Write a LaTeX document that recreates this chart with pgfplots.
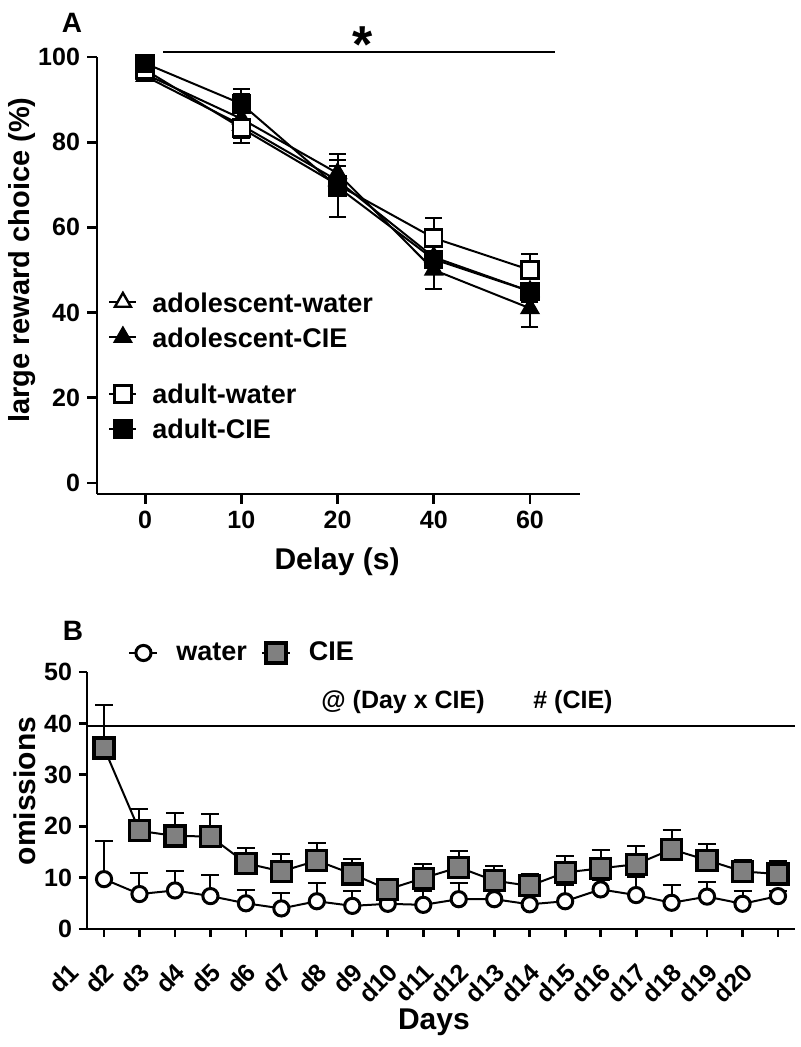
\documentclass[border=0pt]{standalone}
\usepackage{pgfplots}
\pgfplotsset{compat=1.18}
\usepackage{fontspec}
\setmainfont{Liberation Sans}
\newcommand{\fs}[1]{\fontsize{#1}{#1}\selectfont\bfseries}
\definecolor{cie}{RGB}{128,128,128}
\begin{document}
\begin{tikzpicture}
\useasboundingbox (0pt,0pt) rectangle (400pt,523.5pt);
\pgfplotsset{
  gp/.style={
    scale only axis,
    axis x line*=bottom, axis y line*=left,
    axis line style={line width=1.4pt, -},
    tick align=outside,
    tick style={line width=1.4pt, black},
    ticklabel style={font=\fs{12.5}},
    /pgf/number format/assume math mode=true,
    clip=false,
  },
  errA/.style={black, only marks, mark=none, forget plot,
    error bars/y explicit,
    error bars/error bar style={line width=1pt},
    error bars/error mark options={rotate=90, mark size=4.25pt, line width=1pt}},
  errB/.style={black, only marks, mark=none, forget plot,
    error bars/y explicit, error bars/y dir=plus,
    error bars/error bar style={line width=1pt},
    error bars/error mark options={rotate=90, mark size=4.5pt, line width=1pt}},
  legA/.style={legend style={draw=none, fill=none, at={(rel axis cs:0.0228,#1)}, anchor=west,
      font=\fs{13.5}, inner sep=0pt, row sep=5.5pt, column sep=6.5pt,
      nodes={inner sep=1pt, text height=10pt, text depth=0pt}},
    legend cell align=left,
    legend image code/.code={\draw[mark repeat=2, mark phase=2, ##1] plot coordinates {(0pt,0pt)(6.75pt,0pt)(13.5pt,0pt)};}},
  geomA/.style={at={(48.5pt,276.5pt)}, anchor=south west, width=241.5pt, height=218.5pt,
    xmin=-0.5, xmax=4.52, ymin=-2.6, ymax=100},
}
% ---------------- Panel A (adolescent) ----------------
\begin{axis}[gp, geomA, legA=0.399,
  xtick={0,1,2,3,4}, xticklabels={0,10,20,40,60},
  ytick={0,20,40,60,80,100}, major tick length=5pt,
  xlabel={Delay (s)}, xlabel style={at={(rel axis cs:0.497,-0.156)}, anchor=center, font=\fs{15}},
  ylabel={large reward choice (\%)}, ylabel style={at={(rel axis cs:-0.155,0.535)}, anchor=center, font=\fs{14.5}},
]
\addplot[errA, error bars/y dir=minus] coordinates {(1,84) +- (0,3) (3,53) +- (0,4) (4,45) +- (0,2.5)};
\addplot[errA, error bars/y dir=plus] coordinates {(2,71) +- (0,3.5)};
\addplot[errA, error bars/y dir=plus] coordinates {(1,85.5) +- (0,5.8) (2,72.7) +- (0,4.5)};
\addplot[errA, error bars/y dir=minus] coordinates {(3,50) +- (0,4.5) (4,41) +- (0,4.5)};
\addplot[black, line width=1pt, mark=triangle*, mark size=4.6pt, mark options={solid, fill=white, line width=1.2pt}]
  coordinates {(0,95.5) (1,84) (2,71) (3,53) (4,45)};
\addlegendentry{adolescent-water}
\addplot[black, line width=1pt, mark=triangle*, mark size=4.6pt, mark options={solid, fill=black, line width=1.2pt}]
  coordinates {(0,96) (1,85.5) (2,72.7) (3,50) (4,41)};
\addlegendentry{adolescent-CIE}
\draw[line width=1pt] (axis cs:0.19,101.2) -- (axis cs:4.26,101.2);
\node[anchor=base, font=\fs{26}] at (axis cs:2.26,98.6) {*};
\end{axis}
% ---------------- Panel A (adult) ----------------
\begin{axis}[gp, geomA, hide axis, legA=0.189]
\addplot[errA, error bars/y dir=minus] coordinates {(1,83.3) +- (0,3.5)};
\addplot[errA, error bars/y dir=plus] coordinates {(2,70) +- (0,5.8) (3,57.5) +- (0,4.8) (4,50) +- (0,3.8)};
\addplot[errA, error bars/y dir=plus] coordinates {(1,89) +- (0,3.5) (3,52.5) +- (0,1.5)};
\addplot[errA, error bars/y dir=minus] coordinates {(2,69.5) +- (0,7)};
\addplot[black, line width=1pt, mark=square*, mark size=4.25pt, mark options={solid, fill=white, line width=1.2pt}]
  coordinates {(0,97) (1,83.3) (2,70) (3,57.5) (4,50)};
\addlegendentry{adult-water}
\addplot[black, line width=1pt, mark=square*, mark size=4.25pt, mark options={solid, fill=black, line width=1.2pt}]
  coordinates {(0,98.5) (1,89) (2,69.5) (3,52.5) (4,45)};
\addlegendentry{adult-CIE}
\end{axis}
% ---------------- Panel B ----------------
\begin{axis}[gp, at={(43.5pt,59pt)}, anchor=south west, width=354pt, height=128.5pt,
  xmin=-0.48, xmax=19.48, ymin=0, ymax=50,
  xtick={0,...,19},
  xticklabels={d1,d2,d3,d4,d5,d6,d7,d8,d9,d10,d11,d12,d13,d14,d15,d16,d17,d18,d19,d20},
  xticklabel style={xshift=-12.5pt, yshift=-13pt, rotate=45, anchor=east, font=\fs{12.5}},
  ytick={0,10,20,30,40,50}, major tick length=4pt,
  xlabel={Days}, xlabel style={at={(rel axis cs:0.49,-0.362)}, anchor=center, font=\fs{15}},
  ylabel={omissions}, ylabel style={at={(rel axis cs:-0.0876,0.537)}, anchor=center, font=\fs{15}},
  legend columns=2,
  legend style={draw=none, fill=none, at={(rel axis cs:0.058,1.074)}, anchor=west,
    font=\fs{13.5}, inner sep=0pt, column sep=8pt, nodes={inner sep=1pt},
    /tikz/every even column/.append style={column sep=6pt}},
  legend image code/.code={\draw[mark repeat=2, mark phase=2, #1] plot coordinates {(0pt,0pt)(7pt,0pt)(14pt,0pt)};},
]
\addplot[errB] coordinates {
(0,9.7) +- (0,7.5) (1,6.8) +- (0,4.0) (2,7.5) +- (0,3.8) (3,6.4) +- (0,4.1) (4,5.0) +- (0,2.6)
(5,4.0) +- (0,3.1) (6,5.4) +- (0,3.6) (7,4.5) +- (0,2.8) (8,4.9) +- (0,2.2) (9,4.7) +- (0,2.6)
(10,5.8) +- (0,3.2) (11,5.8) +- (0,2.2) (12,4.8) +- (0,2.0) (13,5.4) +- (0,3.2) (14,7.7) +- (0,1.8)
(15,6.6) +- (0,3.5) (16,5.1) +- (0,3.5) (17,6.3) +- (0,2.9) (18,4.9) +- (0,2.4) (19,6.4) +- (0,1.0)};
\addplot[black, line width=1pt, mark=*, mark size=3.8pt, mark options={solid, fill=white, line width=1.5pt}] coordinates {
(0,9.7) (1,6.8) (2,7.5) (3,6.4) (4,5.0) (5,4.0) (6,5.4) (7,4.5) (8,4.9) (9,4.7)
(10,5.8) (11,5.8) (12,4.8) (13,5.4) (14,7.7) (15,6.6) (16,5.1) (17,6.3) (18,4.9) (19,6.4)};
\addlegendentry{water}
\addplot[errB] coordinates {
(0,35.2) +- (0,8.4) (1,19.1) +- (0,4.2) (2,18.1) +- (0,4.4) (3,18.0) +- (0,4.4) (4,12.8) +- (0,2.9)
(5,11.2) +- (0,3.3) (6,13.3) +- (0,3.5) (7,10.7) +- (0,2.9) (8,7.7) +- (0,2.0) (9,9.9) +- (0,2.7)
(10,12.0) +- (0,3.2) (11,9.4) +- (0,2.9) (12,8.4) +- (0,2.3) (13,11.0) +- (0,3.2) (14,11.8) +- (0,3.6)
(15,12.6) +- (0,3.5) (16,15.5) +- (0,3.8) (17,13.4) +- (0,3.1) (18,11.2) +- (0,2.2) (19,10.7) +- (0,2.6)};
\addplot[black, line width=1pt, mark=square*, mark size=5pt, mark options={solid, fill=cie, line width=1.6pt}] coordinates {
(0,35.2) (1,19.1) (2,18.1) (3,18.0) (4,12.8) (5,11.2) (6,13.3) (7,10.7) (8,7.7) (9,9.9)
(10,12.0) (11,9.4) (12,8.4) (13,11.0) (14,11.8) (15,12.6) (16,15.5) (17,13.4) (18,11.2) (19,10.7)};
\addlegendentry{CIE}
\draw[line width=1pt] (axis cs:-0.48,39.5) -- (axis cs:19.48,39.5);
\node[font=\fs{12.5}] at (axis cs:8.43,44.2) {@ (Day x CIE)};
\node[font=\fs{12.5}] at (axis cs:13.22,44.2) {\# (CIE)};
\end{axis}
\node[font=\fs{14}] at (36pt,512pt) {A};
\node[font=\fs{14}] at (36.5pt,208pt) {B};
\end{tikzpicture}
\end{document}
